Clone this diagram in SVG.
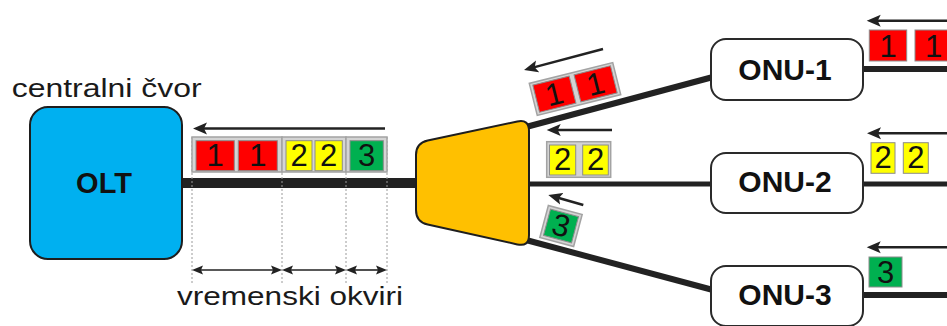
<svg xmlns="http://www.w3.org/2000/svg" width="947" height="326" viewBox="0 0 947 326">
  <defs>
    <style>
      .label { font-family: "Liberation Sans", Arial, sans-serif; font-size: 26px; fill: #1a1a1a; }
      .node-text { font-family: "Liberation Sans", Arial, sans-serif; font-weight: bold; text-anchor: middle; fill: #111; }
      .num { font-family: "Liberation Sans", Arial, sans-serif; font-size: 31px; text-anchor: middle; fill: #111; }
      .fiber { stroke: #222; fill: none; stroke-linecap: butt; }
      .flow { stroke: #222; stroke-width: 2.5; fill: none; }
      .span { stroke: #222; stroke-width: 1.6; fill: none; }
      .guide { stroke: #9a9a9a; stroke-width: 1; stroke-dasharray: 2 2; }
      .frame { fill: #d4d4d4; stroke: #a3a3a3; stroke-width: 1.5; }
      .red { fill: #ff0000; stroke: #8c8c8c; stroke-width: 1; }
      .yel { fill: #ffff00; stroke: #8c8c8c; stroke-width: 1; }
      .grn { fill: #00b050; stroke: #8c8c8c; stroke-width: 1; }
    </style>
    <marker id="head" markerUnits="userSpaceOnUse" markerWidth="15" markerHeight="13" refX="4" refY="6.5" orient="auto">
      <path d="M0,0.5 L14,6.5 L0,12.5 L3,6.5 z" fill="#222"/>
    </marker>
    <marker id="tick" markerUnits="userSpaceOnUse" markerWidth="12" markerHeight="10" refX="3" refY="5" orient="auto-start-reverse">
      <path d="M0,0.5 L11,5 L0,9.5 L2,5 z" fill="#222"/>
    </marker>
  </defs>

  <rect x="0" y="0" width="947" height="326" fill="#ffffff"/>

  <!-- fibres -->
  <g id="connectors">
    <line class="fiber" x1="180" y1="183" x2="420" y2="183" stroke-width="10"/>
    <line class="fiber" x1="526" y1="127" x2="713" y2="77" stroke-width="6"/>
    <line class="fiber" x1="526" y1="184" x2="713" y2="184" stroke-width="5"/>
    <line class="fiber" x1="526" y1="240" x2="713" y2="290" stroke-width="6"/>
    <line class="fiber" x1="860" y1="69" x2="947" y2="69" stroke-width="6"/>
    <line class="fiber" x1="860" y1="184" x2="947" y2="184" stroke-width="5"/>
    <line class="fiber" x1="860" y1="295" x2="947" y2="295" stroke-width="6"/>
  </g>

  <!-- time slot guides -->
  <g id="slot-guides">
    <line class="guide" x1="192" y1="137" x2="192" y2="283"/>
    <line class="guide" x1="282" y1="137" x2="282" y2="283"/>
    <line class="guide" x1="346" y1="137" x2="346" y2="283"/>
    <line class="guide" x1="387" y1="137" x2="387" y2="283"/>
    <line class="span" x1="200" y1="270" x2="274" y2="270" marker-start="url(#tick)" marker-end="url(#tick)"/>
    <line class="span" x1="290" y1="270" x2="338" y2="270" marker-start="url(#tick)" marker-end="url(#tick)"/>
    <line class="span" x1="354" y1="270" x2="379" y2="270" marker-start="url(#tick)" marker-end="url(#tick)"/>
    <text class="label" x="177" y="305" textLength="226" lengthAdjust="spacingAndGlyphs">vremenski okviri</text>
  </g>

  <!-- direction arrows -->
  <g id="flow-arrows">
    <line class="flow" x1="385" y1="128.5" x2="203" y2="128.5" marker-end="url(#head)"/>
    <line class="flow" x1="603" y1="49" x2="533.7" y2="67.4" marker-end="url(#head)"/>
    <line class="flow" x1="612" y1="130" x2="556.7" y2="130" marker-end="url(#head)"/>
    <line class="flow" x1="583.3" y1="205" x2="557.9" y2="197.7" marker-end="url(#head)"/>
    <line class="flow" x1="950" y1="20.7" x2="876.7" y2="20.7" marker-end="url(#head)"/>
    <line class="flow" x1="950" y1="133.3" x2="877" y2="133.3" marker-end="url(#head)"/>
    <line class="flow" x1="950" y1="247.3" x2="876.7" y2="247.3" marker-end="url(#head)"/>
  </g>

  <!-- central node -->
  <g id="olt">
    <text class="label" x="11.7" y="96.7" textLength="190" lengthAdjust="spacingAndGlyphs">centralni čvor</text>
    <rect x="30" y="107" width="152" height="152" rx="18" fill="#00b0f0" stroke="#1e1e1e" stroke-width="2"/>
    <text class="node-text" x="104" y="192.5" font-size="29">OLT</text>
  </g>

  <!-- passive splitter -->
  <g id="splitter">
    <path d="M427.7,140.5 L517.3,121.5 Q529,119 529,131 L529,235 Q529,247 517.3,244.4 L427.7,224.6 Q416,222 416,210 L416,155 Q416,143 427.7,140.5 Z" fill="#ffc000" stroke="#1e1e1e" stroke-width="2"/>
  </g>

  <!-- subscriber units -->
  <g id="onu-1">
    <rect x="711" y="39" width="152" height="61" rx="15" fill="#ffffff" stroke="#2a2a2a" stroke-width="2"/>
    <text class="node-text" x="785" y="80" font-size="30">ONU-1</text>
  </g>
  <g id="onu-2">
    <rect x="711" y="153" width="152" height="60" rx="15" fill="#ffffff" stroke="#2a2a2a" stroke-width="2"/>
    <text class="node-text" x="785" y="192" font-size="30">ONU-2</text>
  </g>
  <g id="onu-3">
    <rect x="711" y="266" width="152" height="60" rx="15" fill="#ffffff" stroke="#2a2a2a" stroke-width="2"/>
    <text class="node-text" x="785" y="305" font-size="30">ONU-3</text>
  </g>

  <!-- multiplexed frame on the trunk -->
  <g id="trunk-frames">
    <rect class="frame" x="192" y="137" width="90" height="35"/>
    <rect class="frame" x="282" y="137" width="64" height="35"/>
    <rect class="frame" x="346" y="137" width="41" height="35"/>
    <rect class="red" x="196" y="140.7" width="38.3" height="30"/>
    <rect class="red" x="238.3" y="140.7" width="39" height="30"/>
    <rect class="yel" x="286" y="140.7" width="26" height="30"/>
    <rect class="yel" x="315" y="140.7" width="27.3" height="30"/>
    <rect class="grn" x="350" y="140.7" width="33.3" height="30"/>
    <text class="num" x="215.2" y="165.7">1</text>
    <text class="num" x="257.8" y="165.7">1</text>
    <text class="num" x="299" y="165.7">2</text>
    <text class="num" x="328.6" y="165.7">2</text>
    <text class="num" x="366.6" y="165.7">3</text>
  </g>

  <!-- frames on the drop fibres -->
  <g id="drop-frames">
    <g transform="translate(575,89) rotate(-14)">
      <rect class="frame" x="-43" y="-16.5" width="86" height="33"/>
      <rect class="red" x="-40" y="-14" width="37.5" height="28"/>
      <rect class="red" x="2.5" y="-14" width="37.5" height="28"/>
      <text class="num" x="-21.2" y="10.5" font-size="30">1</text>
      <text class="num" x="21.2" y="10.5" font-size="30">1</text>
    </g>
    <rect class="frame" x="546.7" y="141.7" width="64" height="35.6"/>
    <rect class="yel" x="549.5" y="145" width="26.2" height="30"/>
    <rect class="yel" x="582.7" y="145" width="25.6" height="30"/>
    <text class="num" x="562.6" y="170" font-size="30">2</text>
    <text class="num" x="595.5" y="170" font-size="30">2</text>
    <g transform="translate(561,226) rotate(15)">
      <rect class="frame" x="-17.5" y="-16.5" width="35" height="33"/>
      <rect class="grn" x="-14.5" y="-13.5" width="29" height="27"/>
      <text class="num" x="0" y="10" font-size="29">3</text>
    </g>
  </g>

  <!-- frames leaving the subscriber units -->
  <g id="onu-frames">
    <rect class="red" x="869.3" y="30" width="37.4" height="31"/>
    <rect class="red" x="915" y="30" width="37.4" height="31"/>
    <text class="num" x="888" y="56.7" font-size="30">1</text>
    <text class="num" x="933.7" y="56.7" font-size="30">1</text>
    <rect class="yel" x="871" y="142.7" width="24" height="30.6"/>
    <rect class="yel" x="903.3" y="142.7" width="25" height="30.6"/>
    <text class="num" x="883" y="168.3" font-size="30">2</text>
    <text class="num" x="915.8" y="168.3" font-size="30">2</text>
    <rect class="grn" x="869" y="257" width="33" height="30"/>
    <text class="num" x="885.5" y="283" font-size="30">3</text>
  </g>
</svg>
